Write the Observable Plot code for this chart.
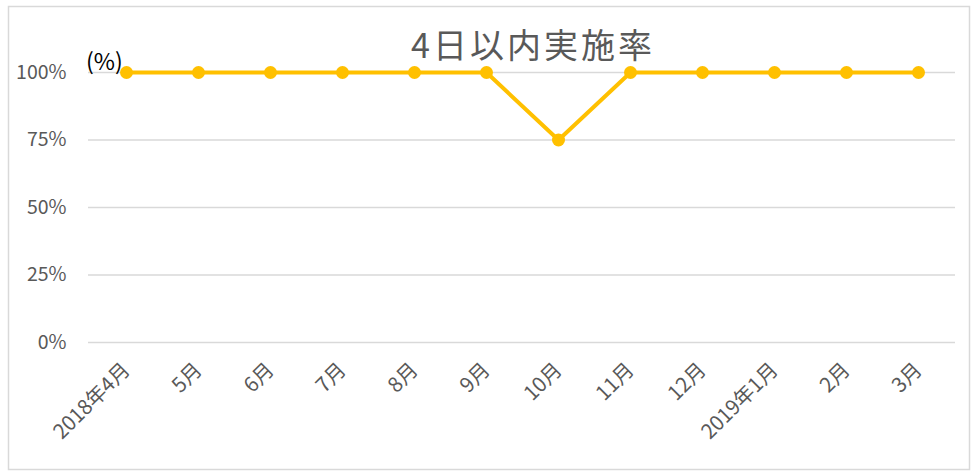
<!DOCTYPE html>
<html><head><meta charset="utf-8">
<script src="https://cdn.jsdelivr.net/npm/d3@7"></script>
<script src="https://cdn.jsdelivr.net/npm/@observablehq/plot@0.6"></script>
<style>
body{margin:0;background:#fff;}
#chart svg{display:block;font-family:"Noto Sans CJK JP","Noto Sans",sans-serif;}
</style>
</head><body><div id="chart"></div>
<script>
const months = ["2018年4月","5月","6月","7月","8月","9月","10月","11月","12月","2019年1月","2月","3月"];
const rates = [1,1,1,1,1,1,0.75,1,1,1,1,1];
const yTicks = [0,0.25,0.5,0.75,1];
const title = "4日以内実施率";
const unitLabel = "(%)";

const data = months.map((m,i)=>({month:m, rate:rates[i]}));
const W = 972, H = 472;
const plot = Plot.plot({
  width: W, height: H,
  marginLeft: 88, marginRight: 17, marginTop: 72, marginBottom: 130,
  style:{fontSize:"19px", color:"#595959", background:"#fff"},
  x:{type:"point", domain:months, padding:0.5, label:null},
  y:{domain:[0,1], label:null},
  marks:[
    Plot.gridY(yTicks,{stroke:"#d9d9d9", strokeOpacity:1, strokeWidth:1.5}),
    Plot.axisY({ticks:yTicks, tickFormat:d3.format(".0%"), tickSize:0, tickPadding:22, fill:"#595959", fontSize:19.5}),
    Plot.axisX({tickSize:0, tickRotate:-45, tickPadding:24, fill:"#595959", fontSize:20.5}),
    Plot.line(data,{x:"month", y:"rate", stroke:"#FFC000", strokeWidth:4}),
    Plot.dot(data,{x:"month", y:"rate", fill:"#FFC000", r:6.5})
  ]
});
document.getElementById("chart").appendChild(plot);
const svg = d3.select(plot);
svg.insert("rect",":first-child").attr("x",8.5).attr("y",6.5).attr("width",961).attr("height",463)
  .attr("fill","#fff").attr("stroke","#d9d9d9").attr("stroke-width",1.5);
svg.append("text").attr("x",533).attr("y",58).attr("text-anchor","middle")
  .attr("fill","#595959").style("font-size","34px").style("letter-spacing","3px").text(title);
svg.append("text").attr("x",86).attr("y",70).attr("text-anchor","start")
  .attr("fill","#000").style("font-size","23px").text(unitLabel);
</script>
</body></html>
